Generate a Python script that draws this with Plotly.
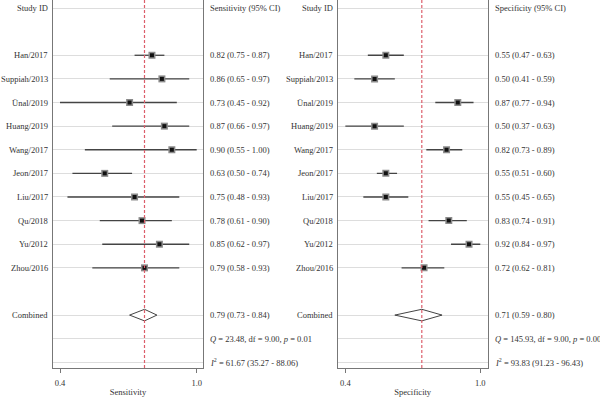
import plotly.graph_objects as go

studies = ["Han/2017", "Suppiah/2013", "Ünal/2019", "Huang/2019", "Wang/2017",
           "Jeon/2017", "Liu/2017", "Qu/2018", "Yu/2012", "Zhou/2016"]
sens = [0.82, 0.86, 0.73, 0.87, 0.90, 0.63, 0.75, 0.78, 0.85, 0.79]
sens_lo = [0.75, 0.65, 0.45, 0.66, 0.55, 0.50, 0.48, 0.61, 0.62, 0.58]
sens_hi = [0.87, 0.97, 0.92, 0.97, 1.00, 0.74, 0.93, 0.90, 0.97, 0.93]
spec = [0.55, 0.50, 0.87, 0.50, 0.82, 0.55, 0.55, 0.83, 0.92, 0.72]
spec_lo = [0.47, 0.41, 0.77, 0.37, 0.73, 0.51, 0.45, 0.74, 0.84, 0.62]
spec_hi = [0.63, 0.59, 0.94, 0.63, 0.89, 0.60, 0.65, 0.91, 0.97, 0.81]
sens_comb = [0.79, 0.73, 0.84]
spec_comb = [0.71, 0.59, 0.80]
sens_q = ["23.48", "9.00", "0.01"]
spec_q = ["145.93", "9.00", "0.00"]
sens_i2 = ["61.67", "35.27", "88.06"]
spec_i2 = ["93.83", "91.23", "96.43"]
sens_ticks = [0.45, 1.00]
spec_ticks = [0.37, 0.97]
tick_text = ["0.4", "1.0"]

FONT = "Liberation Serif"
FS = 8.5
TXT = "#333333"
study_rows = list(range(2, 12))
comb_row, q_row, i2_row = 13, 14, 15
grid_rows = [0] + study_rows + [comb_row, q_row, i2_row]

fig = go.Figure()

panels = [
    dict(xa="x", ya="y", dom=[53/600, 203/600], rng=[0.4218, 1.0254], pt=sens, lo=sens_lo, hi=sens_hi,
         comb=sens_comb, q=sens_q, i2=sens_i2, ticks=sens_ticks, title="Sensitivity",
         head="Sensitivity (95% CI)", lab_x=49.5/600, txt_x=208/600),
    dict(xa="x2", ya="y2", dom=[337.7/600, 487.7/600], rng=[0.336, 1.003], pt=spec, lo=spec_lo, hi=spec_hi,
         comb=spec_comb, q=spec_q, i2=spec_i2, ticks=spec_ticks, title="Specificity",
         head="Specificity (95% CI)", lab_x=334.5/600, txt_x=492.5/600),
]

annotations = []
shapes = []
for p in panels:
    xs, ys = [], []
    for lo, hi, r in zip(p["lo"], p["hi"], study_rows):
        xs += [lo, hi, None]
        ys += [r, r, None]
    fig.add_trace(go.Scatter(x=xs, y=ys, mode="lines", line=dict(color="#444444", width=1.3),
                             xaxis=p["xa"], yaxis=p["ya"], hoverinfo="skip", showlegend=False))
    fig.add_trace(go.Scatter(x=p["pt"], y=study_rows, mode="markers",
                             marker=dict(symbol="square", size=7, color="#8a8a8a", line=dict(width=0)),
                             xaxis=p["xa"], yaxis=p["ya"], showlegend=False))
    fig.add_trace(go.Scatter(x=p["pt"], y=study_rows, mode="markers",
                             marker=dict(symbol="square", size=4, color="#111111", line=dict(width=0)),
                             xaxis=p["xa"], yaxis=p["ya"], showlegend=False))
    est, clo, chi = p["comb"]
    fig.add_trace(go.Scatter(x=[clo, est, chi, est, clo],
                             y=[comb_row, comb_row - 0.245, comb_row, comb_row + 0.245, comb_row],
                             mode="lines", fill="toself", fillcolor="white",
                             line=dict(color="#444444", width=1), xaxis=p["xa"], yaxis=p["ya"],
                             showlegend=False, hoverinfo="skip"))
    shapes.append(dict(type="line", xref=p["xa"], yref=p["ya"] + " domain", x0=est, x1=est, y0=0, y1=1,
                       line=dict(color="#dc5e6a", width=1.2, dash="3px,2px"), layer="above"))

    annotations.append(dict(x=p["lab_x"], y=0, xref="paper", yref=p["ya"], text="Study ID",
                            xanchor="right", showarrow=False))
    for s, r in zip(studies, study_rows):
        annotations.append(dict(x=p["lab_x"], y=r, xref="paper", yref=p["ya"], text=s,
                                xanchor="right", showarrow=False))
    annotations.append(dict(x=p["lab_x"], y=comb_row, xref="paper", yref=p["ya"], text="Combined",
                            xanchor="right", showarrow=False))
    annotations.append(dict(x=p["txt_x"], y=0, xref="paper", yref=p["ya"], text=p["head"],
                            xanchor="left", showarrow=False))
    for v, lo, hi, r in zip(p["pt"], p["lo"], p["hi"], study_rows):
        annotations.append(dict(x=p["txt_x"], y=r, xref="paper", yref=p["ya"],
                                text=f"{v:.2f} ({lo:.2f} - {hi:.2f})", xanchor="left", showarrow=False))
    annotations.append(dict(x=p["txt_x"], y=comb_row, xref="paper", yref=p["ya"],
                            text=f"{est:.2f} ({clo:.2f} - {chi:.2f})", xanchor="left", showarrow=False))
    qv, dfv, pv = p["q"]
    annotations.append(dict(x=p["txt_x"], y=q_row, xref="paper", yref=p["ya"],
                            text=f"<i>Q</i> = {qv}, df = {dfv}, <i>p</i> = {pv}", xanchor="left", showarrow=False))
    iv, ilo, ihi = p["i2"]
    annotations.append(dict(x=p["txt_x"], y=i2_row, xref="paper", yref=p["ya"],
                            text=f"<i>I</i><sup>2</sup> = {iv} ({ilo} - {ihi})", xanchor="left", showarrow=False))

axis_common_x = dict(showline=True, linecolor="#777777", linewidth=1, ticks="outside", ticklen=4,
                     tickcolor="#777777", showgrid=False, zeroline=False, ticklabelstandoff=3,
                     tickfont=dict(family=FONT, size=FS, color=TXT))
axis_common_y = dict(range=[15.24, -0.34], tickvals=grid_rows, showticklabels=False, ticks="",
                     showgrid=True, gridcolor="#dddddd", gridwidth=1, zeroline=False,
                     showline=True, mirror=True, linecolor="#777777", linewidth=1)

fig.update_layout(
    width=600, height=399,
    margin=dict(l=0, r=0, t=0, b=31),
    paper_bgcolor="white", plot_bgcolor="white",
    font=dict(family=FONT, size=FS, color=TXT),
    showlegend=False,
    xaxis=dict(domain=panels[0]["dom"], range=panels[0]["rng"], tickvals=panels[0]["ticks"], ticktext=tick_text,
               anchor="y", title=dict(text="Sensitivity", font=dict(family=FONT, size=FS, color=TXT), standoff=1),
               **axis_common_x),
    xaxis2=dict(domain=panels[1]["dom"], range=panels[1]["rng"], tickvals=panels[1]["ticks"], ticktext=tick_text,
                anchor="y2", title=dict(text="Specificity", font=dict(family=FONT, size=FS, color=TXT), standoff=1),
                **axis_common_x),
    yaxis=dict(anchor="x", **axis_common_y),
    yaxis2=dict(anchor="x2", **axis_common_y),
    annotations=annotations,
    shapes=shapes,
)

fig.write_html("out.html", config={"displayModeBar": False},
               post_script="document.body.style.margin='0';document.body.style.padding='0';")
